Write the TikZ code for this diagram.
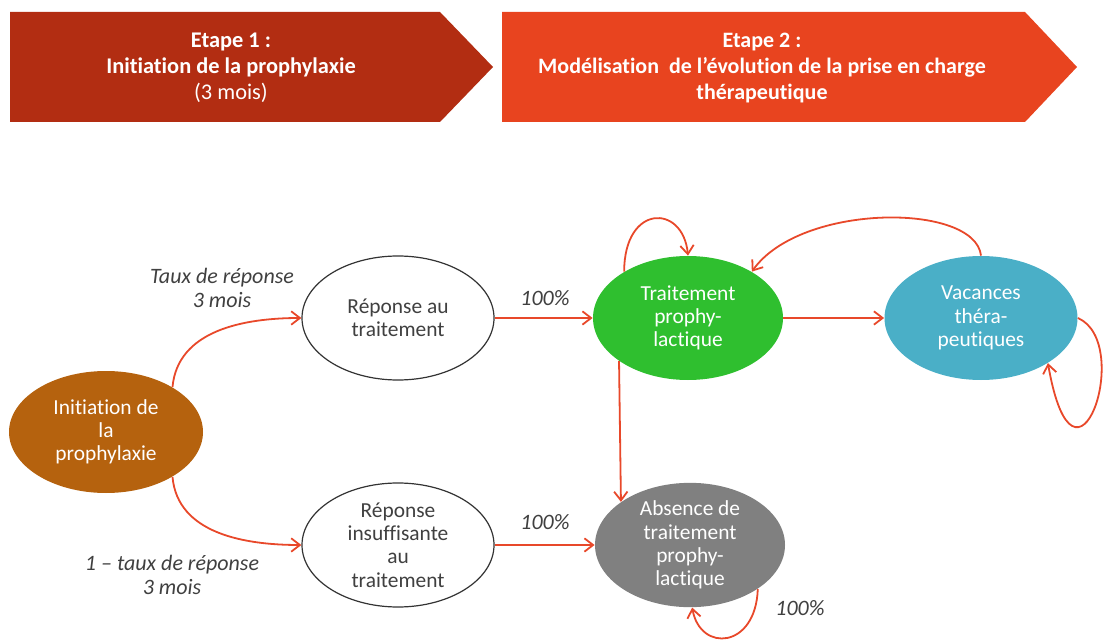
\documentclass[tikz,border=0pt]{standalone}
\usepackage{fontspec}
\setmainfont{Carlito}[Ligatures=NoCommon]
\usepackage{tikz}
\usetikzlibrary{arrows.meta,shapes.geometric}

\definecolor{etapeA}{RGB}{178,45,18}
\definecolor{etapeB}{RGB}{232,68,31}
\definecolor{fleche}{RGB}{232,72,42}
\definecolor{brun}{RGB}{181,98,14}
\definecolor{vert}{RGB}{47,191,47}
\definecolor{bleu}{RGB}{74,175,199}
\definecolor{gris}{RGB}{128,128,128}
\definecolor{texte}{RGB}{64,64,64}

\begin{document}
\begin{tikzpicture}[x=0.5pt,y=0.5pt,
  etat/.style={ellipse,inner sep=0pt,align=center,minimum width=96pt,minimum height=62pt,
    font=\fontsize{10.7}{11.6}\selectfont},
  pleine/.style={etat,text=white},
  vide/.style={etat,draw=black!80,line width=0.6pt,fill=white,text=texte},
  lien/.style={draw=fleche,line width=0.9pt,-{Straight Barb[angle=75:5.5pt]}},
  taux/.style={text=texte,align=center,font=\fontsize{11}{12}\selectfont\itshape}]
  \useasboundingbox (0,0) rectangle (1107,643);
  % 見出しの矢羽
  \fill[etapeA] (10,631) -- (440,631) -- (493,576) -- (440,521) -- (10,521) -- cycle;
  \fill[etapeB] (502,631) -- (1025,631) -- (1077,576) -- (1025,521) -- (502,521) -- cycle;
  \node[text=white,align=center,font=\fontsize{11.2}{13}\selectfont] (titreA) at (231,575)
    {\textbf{Etape 1 :}\\ \textbf{Initiation de la prophylaxie}\\ (3 mois)};
  \node[text=white,align=center,font=\fontsize{11}{13}\selectfont\bfseries] (titreB) at (762,575)
    {Etape 2 :\\ Modélisation\ \ de l’évolution de la prise en charge\\ thérapeutique};
  % 状態
  \node[pleine,fill=brun,minimum width=97pt,minimum height=61pt] (init) at (106,211)
    {Initiation de\\ la\\ prophylaxie};
  \node[vide] (rep) at (398,325) {Réponse au\\ traitement};
  \node[vide] (insuf) at (398,98) {Réponse\\ insuffisante\\ au\\ traitement};
  \node[pleine,fill=vert,minimum width=95pt] (trait) at (688,325)
    {Traitement\\ prophy-\\ lactique};
  \node[pleine,fill=bleu,minimum width=96.5pt] (vac) at (981,325)
    {Vacances\\ théra-\\ peutiques};
  \node[pleine,fill=gris,minimum width=95pt] (abs) at (690,98)
    {Absence de\\ traitement\\ prophy-\\ lactique};
  % 遷移
  \draw[lien] (init.34) to[out=85,in=180] (rep.west);
  \draw[lien] (init.-34) to[out=-85,in=180] (insuf.west);
  \draw[lien] (rep.east) -- (trait.west);
  \draw[lien] (insuf.east) -- (abs.west);
  \draw[lien] (trait.east) -- (vac.west);
  \draw[lien] (trait.212) -- (abs.148);
  \draw[lien] (trait.144) .. controls +(0,68) and +(-5,52) .. (trait.north);
  \draw[lien] (vac.north) .. controls +(-6,53) and +(49,69) .. (trait.36);
  \draw[lien] (vac.east) .. controls +(57,-25) and +(27,-155) .. (vac.-34);
  \draw[lien] (abs.-33) .. controls +(-2,-60) and +(8,-45) .. (abs.-88);
  % 確率
  \node[taux] (tauxA) at (222,355) {Taux de réponse\\ 3 mois};
  \node[taux] (tauxB) at (172,68) {1 – taux de réponse\\ 3 mois};
  \node[taux] (pA) at (545,345) {100\%};
  \node[taux] (pB) at (545,121) {100\%};
  \node[taux] (pC) at (800,35) {100\%};
\end{tikzpicture}
\end{document}
